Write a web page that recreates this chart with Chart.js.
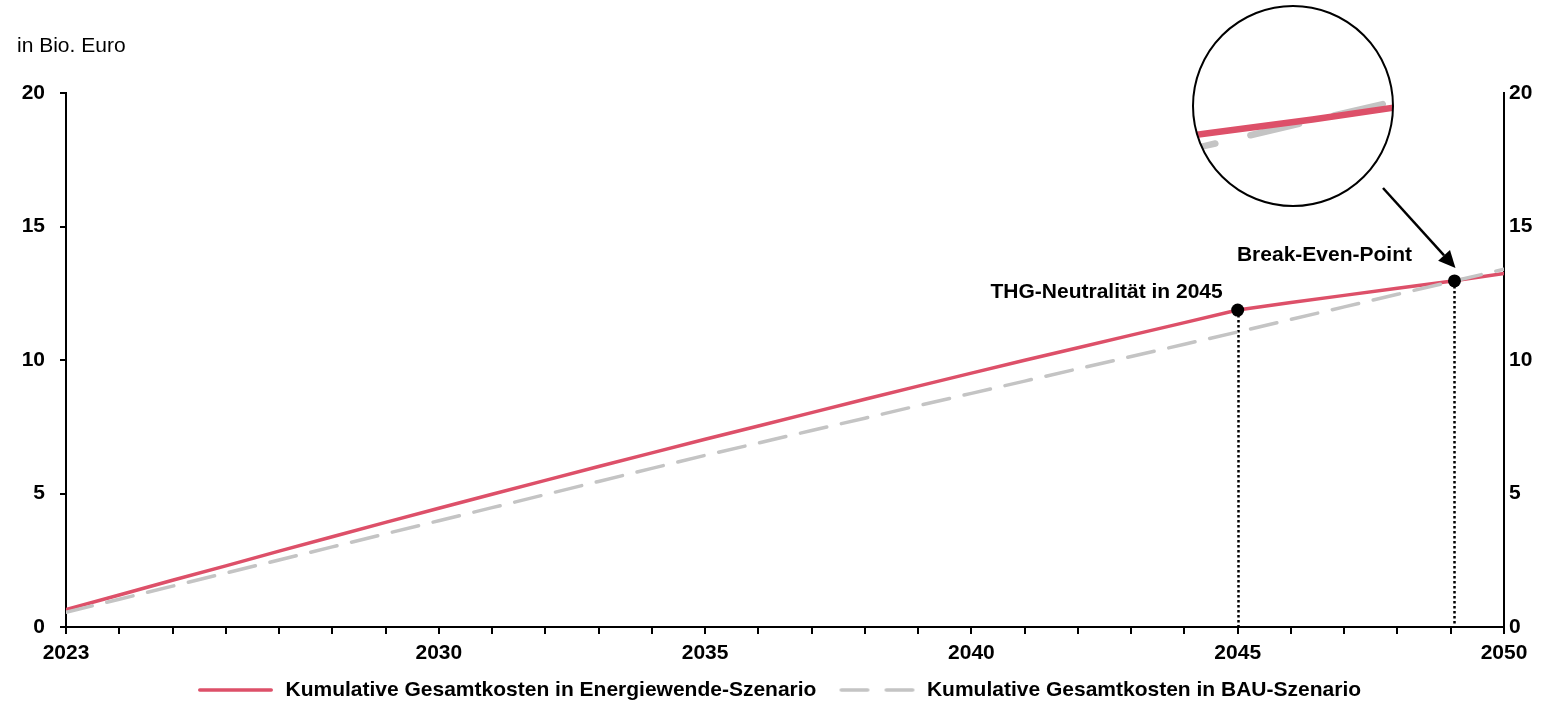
<!DOCTYPE html>
<html lang="de">
<head>
<meta charset="utf-8">
<title>Kumulative Gesamtkosten</title>
<script src="https://cdn.jsdelivr.net/npm/chart.js@4.4.1/dist/chart.umd.min.js"></script>
<style>
  html, body { margin: 0; padding: 0; background: #fff; }
  #wrap { position: relative; width: 1542px; height: 702px; }
  canvas { display: block; }
</style>
</head>
<body>
<div id="wrap"><canvas id="chart" width="1542" height="702"></canvas></div>
<script>
// Years on the horizontal axis
const years = [2023, 2024, 2025, 2026, 2027, 2028, 2029, 2030, 2031, 2032, 2033, 2034, 2035, 2036,
               2037, 2038, 2039, 2040, 2041, 2042, 2043, 2044, 2045, 2046, 2047, 2048, 2049, 2050];

// Cumulative total cost, energy transition scenario (in Bio. Euro)
const energiewende = [0.65, 1.20, 1.75, 2.29, 2.84, 3.38, 3.92, 4.45, 4.97, 5.49, 6.01, 6.52, 7.03, 7.53,
                      8.03, 8.53, 9.02, 9.51, 9.99, 10.46, 10.93, 11.40, 11.87, 12.15, 12.42, 12.69, 12.95, 13.24];

// Cumulative total cost, business-as-usual scenario (in Bio. Euro)
const bau = [0.55, 1.04, 1.53, 2.02, 2.51, 3.00, 3.49, 3.98, 4.47, 4.96, 5.45, 5.94, 6.43, 6.89,
             7.36, 7.82, 8.29, 8.75, 9.21, 9.67, 10.13, 10.59, 11.05, 11.52, 11.99, 12.46, 12.93, 13.40];

const seriesNames = ['Kumulative Gesamtkosten in Energiewende-Szenario',
                     'Kumulative Gesamtkosten in BAU-Szenario'];

// Labelled years on the x axis, value ticks on both y axes
const xTickLabels = [2023, 2030, 2035, 2040, 2045, 2050];
const yTickValues = [0, 5, 10, 15, 20];

// Highlighted points: climate neutrality and break-even
const markerYears = [2045, 2049.07];
const markerValues = [11.87, 12.96];
const markerLabels = ['THG-Neutralität in 2045', 'Break-Even-Point'];

// First year shown inside the magnifying lens
const lensFromYear = 2047;

const unitLabel = 'in Bio. Euro';

const RED = '#dd5069';
const GREY = '#c4c4c4';
const FONT = '"Liberation Sans", Arial, Helvetica, sans-serif';

Chart.defaults.font.family = FONT;
Chart.defaults.font.size = 21;
Chart.defaults.color = '#000';

const toPoints = (xs, ys) => xs.map((x, i) => ({ x, y: ys[i] }));

// Small line swatches used as legend symbols (7px lead-in, 2px trailing gap)
const SWATCH_W = 84;
function lineSample(color, dash) {
  const c = document.createElement('canvas');
  c.width = SWATCH_W;
  c.height = 8;
  const g = c.getContext('2d');
  g.strokeStyle = color;
  g.lineWidth = 3.5;
  g.lineCap = 'round';
  g.setLineDash(dash);
  g.beginPath();
  g.moveTo(8.75, 4);
  g.lineTo(80.25, 4);
  g.stroke();
  return c;
}
const legendSwatches = [lineSample(RED, []), lineSample(GREY, [26.5, 18.5])];

// Value of a series interpolated at a given year
function valueAt(series, yr) {
  for (let i = 1; i < years.length; i++) {
    if (yr <= years[i]) {
      const t = (yr - years[i - 1]) / (years[i] - years[i - 1]);
      return series[i - 1] + t * (series[i] - series[i - 1]);
    }
  }
  return series[series.length - 1];
}

// Dotted drop lines from the markers down to the x axis
const dropLines = {
  id: 'dropLines',
  beforeDatasetsDraw(chart) {
    const { ctx, scales: { x, y } } = chart;
    ctx.save();
    ctx.strokeStyle = '#000';
    ctx.lineWidth = 2.5;
    ctx.setLineDash([2.5, 2.5]);
    markerYears.forEach((yr, i) => {
      const px = Math.round(x.getPixelForValue(yr)) + 0.5;
      ctx.beginPath();
      ctx.moveTo(px, y.getPixelForValue(markerValues[i]));
      ctx.lineTo(px, y.getPixelForValue(0));
      ctx.stroke();
    });
    ctx.restore();
  }
};

// Keeps the legend row slightly right of the exact centre
const legendNudge = {
  id: 'legendNudge',
  afterLayout(chart) {
    if (chart.legend) {
      chart.legend.left += 5;
      chart.legend.right += 5;
    }
  }
};

// Unit label, marker captions, lens and arrow
const overlay = {
  id: 'overlay',
  afterDraw(chart) {
    const { ctx, scales: { x, y } } = chart;
    ctx.save();

    // unit
    ctx.fillStyle = '#000';
    ctx.font = '21px ' + FONT;
    ctx.textAlign = 'left';
    ctx.textBaseline = 'alphabetic';
    ctx.fillText(unitLabel, 17, 52);

    // marker captions
    ctx.font = 'bold 21px ' + FONT;
    const p0x = x.getPixelForValue(markerYears[0]), p0y = y.getPixelForValue(markerValues[0]);
    ctx.textAlign = 'right';
    ctx.fillText(markerLabels[0], p0x - 15, p0y - 12);
    const p1x = x.getPixelForValue(markerYears[1]), p1y = y.getPixelForValue(markerValues[1]);
    ctx.textAlign = 'center';
    ctx.fillText(markerLabels[1], p1x - 130, p1y - 20);

    // magnifying lens around the break-even point
    const cx = 1293, cy = 106, r = 100, k = 2;
    const lensX = 1320, lensY = 119;
    const map = (yr, v) => [lensX + k * (x.getPixelForValue(yr) - p1x),
                            lensY + k * (y.getPixelForValue(v) - p1y)];
    const lensPath = (series) => {
      ctx.beginPath();
      const [sx0, sy0] = map(lensFromYear, valueAt(series, lensFromYear));
      ctx.moveTo(sx0, sy0);
      years.forEach((yr, i) => {
        if (yr > lensFromYear) {
          const [mx, my] = map(yr, series[i]);
          ctx.lineTo(mx, my);
        }
      });
    };
    ctx.save();
    ctx.beginPath();
    ctx.arc(cx, cy, r, 0, Math.PI * 2);
    ctx.fillStyle = '#fff';
    ctx.fill();
    ctx.clip();
    ctx.lineCap = 'round';
    ctx.lineJoin = 'round';
    ctx.lineWidth = 6.5;
    ctx.strokeStyle = GREY;
    ctx.setLineDash([50, 36]);
    ctx.lineDashOffset = 17;
    lensPath(bau);
    ctx.stroke();
    ctx.strokeStyle = RED;
    ctx.setLineDash([]);
    ctx.lineDashOffset = 0;
    lensPath(energiewende);
    ctx.stroke();
    ctx.restore();

    ctx.beginPath();
    ctx.arc(cx, cy, r, 0, Math.PI * 2);
    ctx.strokeStyle = '#000';
    ctx.lineWidth = 2;
    ctx.stroke();

    // arrow from the lens to the break-even point
    const sx = 1383, sy = 188;
    const tx = p1x + 1, ty = p1y - 13;
    const ang = Math.atan2(ty - sy, tx - sx);
    const head = 17, half = 8;
    const bx = tx - head * Math.cos(ang), by = ty - head * Math.sin(ang);
    ctx.beginPath();
    ctx.moveTo(sx, sy);
    ctx.lineTo(bx, by);
    ctx.lineWidth = 2.5;
    ctx.stroke();
    ctx.beginPath();
    ctx.moveTo(tx, ty);
    ctx.lineTo(bx + half * Math.sin(ang), by - half * Math.cos(ang));
    ctx.lineTo(bx - half * Math.sin(ang), by + half * Math.cos(ang));
    ctx.closePath();
    ctx.fillStyle = '#000';
    ctx.fill();

    ctx.restore();
  }
};

new Chart(document.getElementById('chart'), {
  type: 'line',
  data: {
    datasets: [
      {
        label: seriesNames[0],
        data: toPoints(years, energiewende),
        borderColor: RED,
        backgroundColor: RED,
        borderWidth: 3.5,
        borderCapStyle: 'round',
        borderJoinStyle: 'round',
        pointRadius: 0,
        tension: 0,
        order: 2
      },
      {
        label: seriesNames[1],
        data: toPoints(years, bau),
        borderColor: GREY,
        backgroundColor: GREY,
        borderWidth: 3.5,
        borderDash: [27, 15],
        borderCapStyle: 'round',
        pointRadius: 0,
        tension: 0,
        order: 1
      },
      {
        label: 'marker',
        data: toPoints(markerYears, markerValues),
        showLine: false,
        pointRadius: 6.5,
        pointBackgroundColor: '#000',
        pointBorderColor: '#000',
        pointBorderWidth: 0,
        order: 0
      }
    ]
  },
  options: {
    responsive: false,
    animation: false,
    devicePixelRatio: 1,
    layout: { padding: { left: 0, right: 0, top: 93, bottom: -8.5 } },
    plugins: {
      tooltip: { enabled: false },
      legend: {
        position: 'bottom',
        labels: {
          usePointStyle: true,
          pointStyleWidth: SWATCH_W,
          padding: 16,
          font: { size: 21, weight: 'bold' },
          color: '#000',
          generateLabels: (chart) =>
            Chart.defaults.plugins.legend.labels.generateLabels(chart)
              .filter((item) => item.datasetIndex < 2)
              .sort((a, b) => a.datasetIndex - b.datasetIndex)
              .map((item) => Object.assign(item, { pointStyle: legendSwatches[item.datasetIndex], rotation: 0 }))
        }
      }
    },
    scales: {
      x: {
        type: 'linear',
        min: years[0],
        max: years[years.length - 1],
        afterFit: (s) => { s.height = 36.5; },
        ticks: {
          stepSize: 1,
          autoSkip: false,
          maxRotation: 0,
          padding: 7,
          font: { size: 21, weight: 'bold' },
          callback: (v) => (xTickLabels.includes(v) ? String(v) : '')
        },
        grid: { drawOnChartArea: false, drawTicks: true, tickLength: 7, color: '#000', lineWidth: 2 },
        border: { display: true, color: '#000', width: 2 }
      },
      y: {
        position: 'left',
        min: yTickValues[0],
        max: yTickValues[yTickValues.length - 1],
        afterFit: (s) => { s.width = 66; },
        ticks: {
          stepSize: 5,
          padding: 15,
          font: { size: 21, weight: 'bold' },
          callback: (v) => (yTickValues.includes(v) ? String(v) : '')
        },
        grid: { drawOnChartArea: false, drawTicks: true, tickLength: 6, color: '#000', lineWidth: 2 },
        border: { display: true, color: '#000', width: 2 }
      },
      y2: {
        position: 'right',
        min: yTickValues[0],
        max: yTickValues[yTickValues.length - 1],
        afterFit: (s) => { s.width = 38; },
        ticks: {
          stepSize: 5,
          padding: 5,
          font: { size: 21, weight: 'bold' },
          callback: (v) => (yTickValues.includes(v) ? String(v) : '')
        },
        grid: { drawOnChartArea: false, drawTicks: false, color: '#000', lineWidth: 2 },
        border: { display: true, color: '#000', width: 2 }
      }
    }
  },
  plugins: [dropLines, legendNudge, overlay]
});
</script>
</body>
</html>
